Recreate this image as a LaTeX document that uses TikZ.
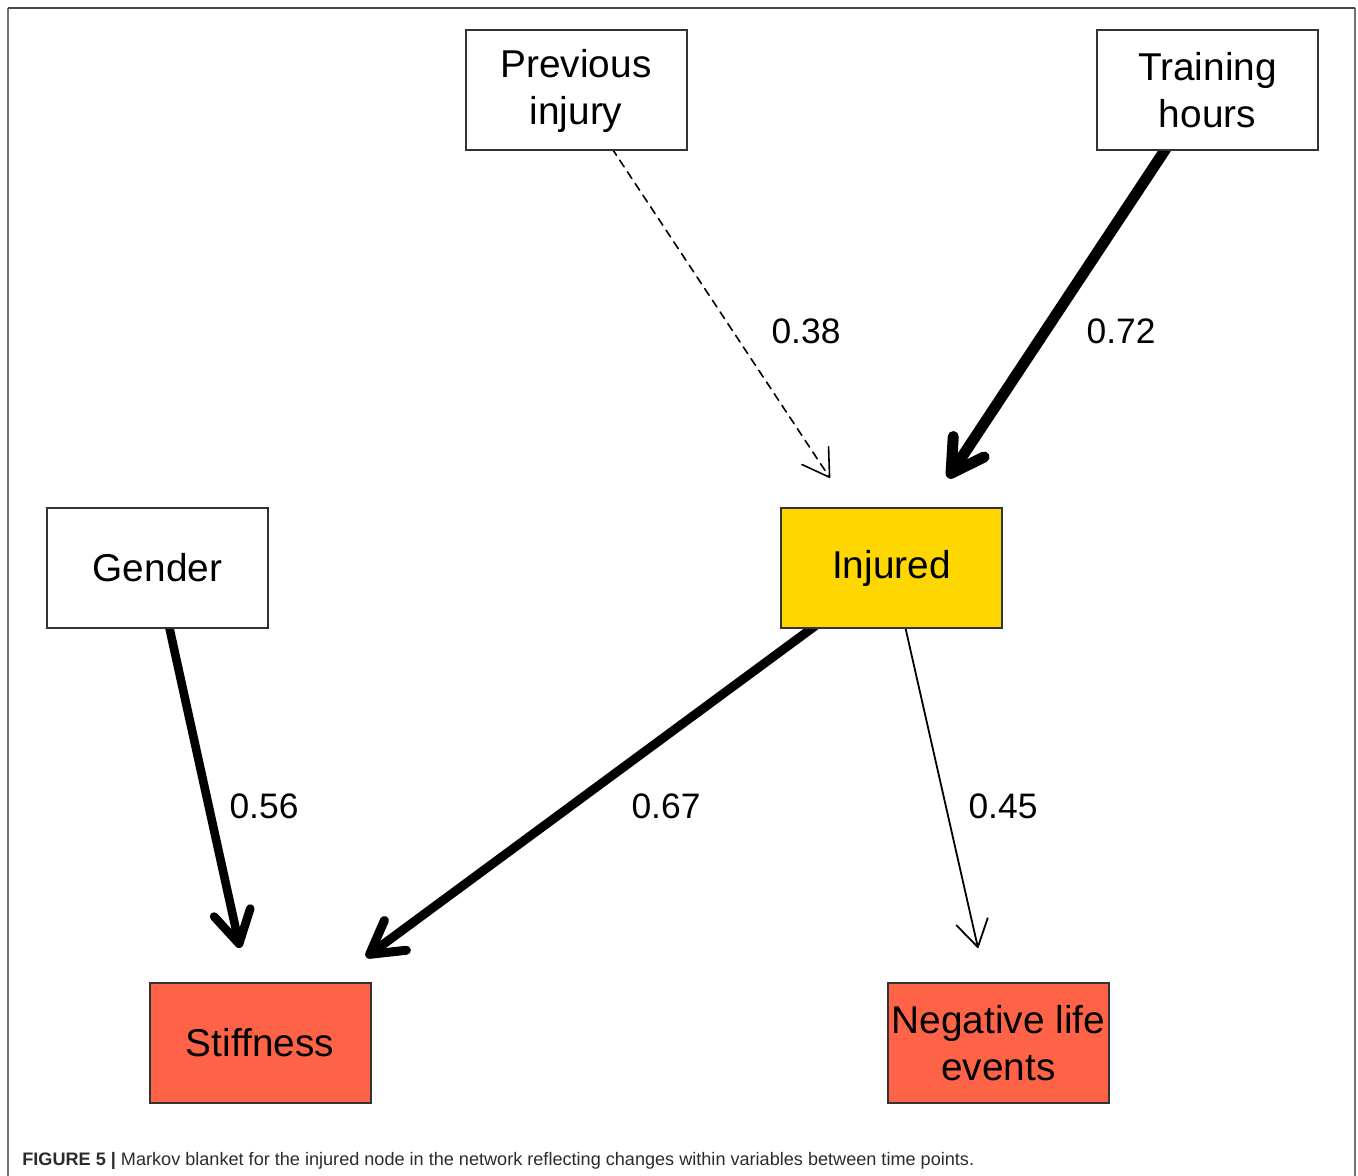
\documentclass[tikz,border=0pt]{standalone}
\usepackage{fontspec}
\setmainfont{Liberation Sans}
\newfontfamily\capfont{Liberation Sans}
\usetikzlibrary{arrows.meta,calc,backgrounds}

\definecolor{gold}{HTML}{FFD700}
\definecolor{tomato}{HTML}{FF6347}
\definecolor{boxline}{HTML}{333333}
\definecolor{captext}{HTML}{2B2B2B}

\tikzset{
  varbox/.style={draw=boxline, line width=1pt, fill=white, minimum width=110.5pt,
    minimum height=60pt, inner sep=0pt, align=center,
    font=\fontsize{19.4pt}{23.5pt}\selectfont},
  wlabel/.style={font=\fontsize{17.7pt}{20pt}\selectfont, inner sep=0pt},
  bigbarb/.style={-{Straight Barb[length=16pt, width=18.5pt, line cap=round, line join=round]}},
  smallbarb/.style={-{Straight Barb[length=13pt, width=16pt, line cap=round, line join=round]}},
  edge/.style={line cap=round, line join=round},
}

\begin{document}
\begin{tikzpicture}[x=0.5pt, y=-0.5pt]
  \useasboundingbox (0,0) rectangle (1358,1176);

  % figure frame (open at the bottom)
  \draw[color=black!55, line width=1pt] (8,8) -- (8,1176);
  \draw[color=black!55, line width=1pt] (1355,8) -- (1355,1176);
  \draw[color=black!72, line width=1pt] (8,8) -- (1355,8);

  % variables
  \node[varbox] (pi)  at (576,90.5)    {Previous\\injury};
  \node[varbox] (th)  at (1207.5,90.5) {Training\\hours};
  \node[varbox] (gen) at (157.5,568)   {Gender};
  \node[varbox, fill=gold] (inj) at (891.5,568) {Injured};
  \node[varbox, fill=tomato] (stf) at (260,1043) {Stiffness};
  \node[varbox, fill=tomato] (neg) at (998.5,1043) {Negative life\\events};

  % weighted arcs
  \begin{scope}[on background layer]
    \draw[edge, smallbarb, line width=0.8pt, dash pattern=on 4pt off 3pt]
      ($(pi.center)+(36,58)$) -- ($(inj.center)+(-61.5,-90)$);
    \draw[edge, bigbarb, line width=5.5pt]
      ($(th.center)+(-41.5,58)$) -- ($(inj.center)+(56.5,-90)$);
    \draw[edge, bigbarb, line width=4.3pt]
      ($(gen.center)+(11.5,58)$) -- ($(stf.center)+(-20,-95)$);
    \draw[edge, bigbarb, line width=4.5pt]
      ($(inj.center)+(-76.5,58)$) -- ($(stf.center)+(106,-86)$);
    \draw[edge, smallbarb, line width=0.9pt]
      ($(inj.center)+(13.5,58)$) -- ($(neg.center)+(-20.5,-95)$);
  \end{scope}

  % arc strengths
  \node[wlabel] (w1) at (806,331)  {0.38};
  \node[wlabel] (w2) at (1121,331) {0.72};
  \node[wlabel] (w3) at (264,806)  {0.56};
  \node[wlabel] (w4) at (666,806)  {0.67};
  \node[wlabel] (w5) at (1003,806) {0.45};

  % caption
  \node[anchor=base west, inner sep=0pt, text=captext,
        font=\capfont\fontsize{9.05pt}{11pt}\selectfont] (cap) at (22,1165)
    {\textbf{FIGURE 5 |} Markov blanket for the injured node in the network reflecting changes within variables between time points.};
\end{tikzpicture}
\end{document}
